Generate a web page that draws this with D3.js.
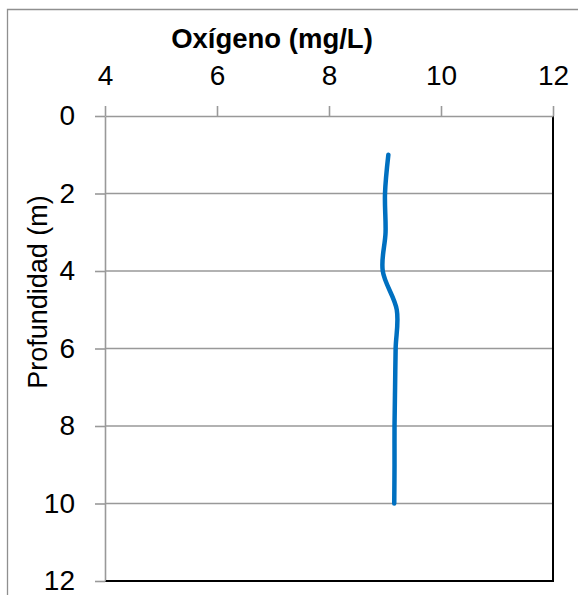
<!DOCTYPE html>
<html>
<head>
<meta charset="utf-8">
<script src="https://cdn.jsdelivr.net/npm/d3@7"></script>
<style>
  html, body { margin: 0; padding: 0; background: #fff; }
  svg { display: block; }
  text { font-family: "Liberation Sans", Arial, sans-serif; }
</style>
</head>
<body>
<svg id="chart" width="578" height="595"></svg>
<script>
// Data
const depth  = [1, 2, 3, 4, 5, 6, 7, 8, 9, 10];
const oxygen = [9.06, 9.00, 9.01, 8.96, 9.21, 9.19, 9.18, 9.17, 9.17, 9.165];
const xTicks = [4, 6, 8, 10, 12];
const yTicks = [0, 2, 4, 6, 8, 10, 12];
const xTitle = "Oxígeno (mg/L)";
const yTitle = "Profundidad (m)";

(function () {
const W = 578, H = 595;
const svg = d3.select("#chart");
svg.append("rect").attr("width", W).attr("height", H).attr("fill", "#fff");

// outer chart border (clipped at right/bottom)
svg.append("path")
  .attr("d", `M7.5,${H} V9.5 H${W}`)
  .attr("fill", "none").attr("stroke", "#8f8f8f").attr("stroke-width", 1.3);

const pL = 105, pR = 553, pT = 116, pB = 581;
const x = d3.scaleLinear().domain([4, 12]).range([pL, pR]);
const y = d3.scaleLinear().domain([0, 12]).range([pT, pB]);

// gridlines
svg.append("g").selectAll("line")
  .data(yTicks.filter(d => d > 0 && d < 12))
  .join("line")
  .attr("x1", pL).attr("x2", pR)
  .attr("y1", d => y(d)).attr("y2", d => y(d))
  .attr("stroke", "#999").attr("stroke-width", 1.6);

// plot area border right & bottom (black)
svg.append("path")
  .attr("d", `M${pR},${pT} V${pB} H${pL}`)
  .attr("fill", "none").attr("stroke", "#000").attr("stroke-width", 2);

// axes
const gx = svg.append("g").attr("transform", `translate(0,${pT})`)
  .call(d3.axisTop(x).tickValues(xTicks).tickSize(10).tickSizeOuter(0).tickPadding(21).tickFormat(d3.format("d")));
const gy = svg.append("g").attr("transform", `translate(${pL},0)`)
  .call(d3.axisLeft(y).tickValues(yTicks).tickSize(10).tickSizeOuter(0).tickPadding(20).tickFormat(d3.format("d")));

[gx, gy].forEach(g => {
  g.selectAll("path.domain").attr("stroke", "#999").attr("stroke-width", 1.6);
  g.selectAll(".tick line").attr("stroke", "#999").attr("stroke-width", 1.6);
  g.selectAll(".tick text").attr("fill", "#000").style("font-size", "28px")
    .style("font-family", '"Liberation Sans", Arial, sans-serif');
});
svg.append("line").attr("x1", pL + 1).attr("x2", pR).attr("y1", pB).attr("y2", pB)
  .attr("stroke", "#000").attr("stroke-width", 2);

// series line
const line = d3.line()
  .x((d, i) => x(oxygen[i]))
  .y((d, i) => y(depth[i]))
  .curve(d3.curveCatmullRom.alpha(0));
svg.append("path")
  .datum(depth)
  .attr("d", line)
  .attr("fill", "none")
  .attr("stroke", "#0070C0")
  .attr("stroke-width", 4.5)
  .attr("stroke-linecap", "round")
  .attr("stroke-linejoin", "round");

// titles
svg.append("text")
  .attr("x", 272).attr("y", 48)
  .attr("text-anchor", "middle")
  .style("font-size", "27.5px").style("font-weight", "bold")
  .text(xTitle);

svg.append("text")
  .attr("transform", "translate(47,292) rotate(-90)")
  .attr("text-anchor", "middle")
  .style("font-size", "27px")
  .text(yTitle);
})();
</script>
</body>
</html>
